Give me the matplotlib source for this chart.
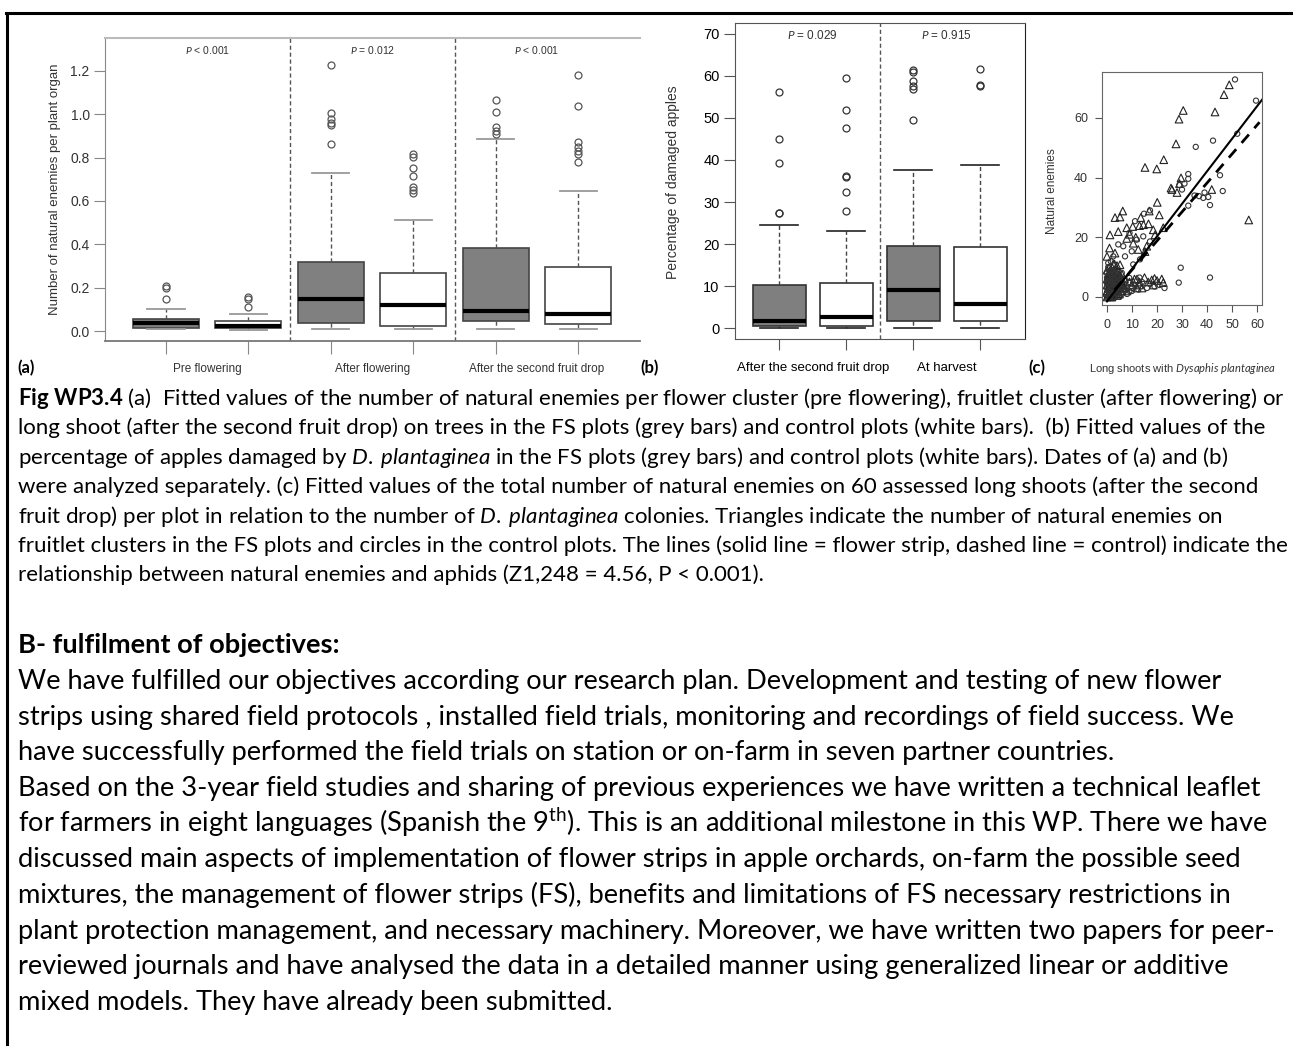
import matplotlib
matplotlib.use('Agg')
import matplotlib.pyplot as plt
import numpy as np
from matplotlib.lines import Line2D

plt.rcParams['font.family'] = ['Liberation Sans', 'DejaVu Sans']
plt.rcParams['mathtext.fontset'] = 'custom'
plt.rcParams['mathtext.rm'] = 'Lato'
plt.rcParams['mathtext.it'] = 'Lato:italic'
plt.rcParams['mathtext.bf'] = 'Lato:bold'

# ---- panel (a): natural enemies per plant organ ----
a_groups = ['Pre flowering', 'After flowering', 'After the second fruit drop']
a_pvals = [r'$\mathit{P}$ < 0.001', r'$\mathit{P}$ = 0.012', r'$\mathit{P}$ < 0.001']
a_med = [0.035, 0.025, 0.147, 0.120, 0.094, 0.077]
a_q1 = [0.014, 0.012, 0.036, 0.023, 0.047, 0.033]
a_q3 = [0.055, 0.046, 0.318, 0.268, 0.383, 0.294]
a_lo = [0.008, 0.003, 0.008, 0.008, 0.010, 0.010]
a_hi = [0.100, 0.078, 0.728, 0.512, 0.886, 0.648]
a_out = [[0.147, 0.200, 0.207],
         [0.110, 0.150, 0.155],
         [1.228, 1.005, 0.980, 0.960, 0.950, 0.862],
         [0.817, 0.804, 0.753, 0.717, 0.663, 0.651, 0.638],
         [1.066, 1.010, 0.943, 0.925, 0.910],
         [1.180, 1.038, 0.870, 0.850, 0.830, 0.817, 0.778]]

# ---- panel (b): damaged apples ----
b_groups = ['After the second fruit drop', 'At harvest']
b_pvals = [r'$\mathit{P}$ = 0.029', r'$\mathit{P}$ = 0.915']
b_med = [1.8, 2.6, 9.1, 5.7]
b_q1 = [0.6, 0.6, 1.8, 1.8]
b_q3 = [10.3, 10.7, 19.6, 19.4]
b_lo = [0, 0, 0, 0]
b_hi = [24.6, 23.0, 37.6, 38.7]
b_out = [[56.1, 45.1, 39.3, 27.5, 27.3],
         [59.4, 51.8, 47.7, 36.1, 35.9, 32.4, 27.9],
         [61.3, 60.9, 58.9, 57.7, 56.9, 49.5],
         [61.7, 57.9, 57.6]]

# ---- panel (c): natural enemies vs aphid colonies ----
tri_x = [48.9, 46.8, 43.2, 30.5, 28.8, 27.6, 22.7, 15.2, 19.9, 29.6, 25.6, 41.9, 56.7, 20.1,
         16.9, 20.9, 22.5, 15.2, 29.0, 28.0, 26.0,
         6.3, 3.2, 5.2, 4.5, 1.2, 7.9, 10.3, 13.0, 14.6, 16.6, 13.5, 7.9, 10.5, 1.0, 0.0, 12.5,
         19.2, 18.5, 3.2, 5.2, 15.9, 9.0, 11.5,
         15.0, 16.5, 17.9, 19.0, 20.0, 21.9, 22.5, 13.0, 12.0, 10.5, 14.0, 18.5,
         0, 0, 0, 0, 0, 1, 1, 1, 1, 1, 2, 2, 2, 2, 2, 3, 3, 3, 3, 4, 4, 4, 4, 5, 5, 5,
         6, 6, 6, 7, 7, 8, 0.5, 1.5, 2.5, 3.5, 4.5, 0.5, 1.5, 2.5, 3.5, 5.5, 6.5, 9, 10, 11, 12, 13,
         0.5, 1.5, 2.5, 3.5, 4.5, 5.5, 0.5, 1.5, 2.5, 3.5, 4.5, 0, 1, 2, 3, 4, 5, 6,
         0.5, 1.5, 2.5, 3.5, 1, 2, 3, 4]
tri_y = [71.1, 67.8, 62.0, 62.5, 59.6, 51.3, 46.0, 43.4, 42.9, 39.9, 36.5, 36.0, 25.8, 31.7,
         28.8, 27.5, 23.2, 15.2, 38.0, 35.0, 36.0,
         28.8, 26.6, 26.8, 21.9, 20.8, 23.2, 23.6, 23.9, 24.2, 24.5, 26.6, 19.6, 18.0, 16.4, 13.6, 15.9,
         20.8, 22.5, 14.7, 10.8, 17.0, 21.0, 20.0,
         6.5, 5.0, 5.7, 6.2, 5.5, 6.0, 4.8, 4.0, 6.0, 5.0, 3.0, 4.0,
         0, 2, 4, 6, 9, 1, 3, 5, 7, 10, 0, 2, 4, 6, 8, 1, 3, 5, 9, 2, 4, 6, 8, 1, 3, 7,
         2, 5, 4, 3, 6, 2, 1, 8, 3, 2, 5, 7, 4, 11, 6, 4, 3, 5, 4, 6, 3, 5,
         3, 5, 7, 9, 1, 6, 0.5, 2.5, 4.5, 6.5, 8.5, 1.5, 4.5, 1.5, 7.5, 0.5, 5.5, 7.5,
         5.5, 0, 0.5, 4, 8.5, 10, 11, 10.5]
cir_x = [51.2, 59.6, 42.4, 35.5, 52.1, 45.2, 32.5, 32.5, 28.9, 46.3, 41.2, 36.8, 38.5, 40.5,
         32.5, 29.5, 28.7, 41.2, 31.0, 30.0, 35.0, 39.0,
         14.8, 17.2, 11.2, 9.0, 6.5, 9.9, 7.2, 10.5, 13.2, 2.5, 0.5, 4.5, 14.5, 17.2, 11.9,
         3.2, 5.9, 8.9,
         9.0, 11.0, 12.5, 14.0, 16.0, 17.0, 19.0, 21.0, 23.0, 10.0, 8.0, 13.0,
         0, 0, 0, 0, 1, 1, 1, 1, 2, 2, 2, 2, 3, 3, 3, 3, 4, 4, 4, 5, 5, 5, 6, 6, 7, 7,
         8, 8, 9, 10, 0.5, 1.5, 2.5, 3.5, 4.5, 5.5, 0.5, 1.5, 2.5,
         0.5, 1.5, 2.5, 3.5, 4.5, 0.5, 1.5, 2.5, 3.5, 0, 1, 2, 3, 4, 5, 6, 7, 0.5, 1.5, 2.5]
cir_y = [72.9, 65.8, 52.4, 50.3, 54.7, 40.8, 41.2, 39.6, 37.5, 35.5, 30.8, 33.8, 33.2, 33.5,
         30.6, 9.8, 4.8, 6.5, 38.0, 36.0, 34.0, 35.0,
         27.9, 29.0, 25.4, 21.5, 17.0, 15.3, 13.6, 10.9, 12.6, 13.6, 11.4, 17.6, 20.3, 18.6, 19.2,
         9.2, 8.1, 6.4,
         5.0, 4.0, 2.5, 5.0, 3.0, 4.5, 3.5, 4.0, 3.0, 2.0, 3.0, 6.5,
         1, 3, 5, 8, 0, 2, 4, 6, 1, 3, 5, 7, 0, 2, 4, 6, 1, 3, 5, 0, 2, 4, 1, 3, 2, 4,
         1, 3, 2, 3, 7, 9, 6, 8, 7, 5, 10, 12, 9,
         2, 4, 3, 5, 3, 5, 7.5, 1.5, 2.5, 6.5, 8.5, 9, 8, 7, 6, 6, 6, 0, 1, 0]
fit_fs = (1.09, -1.5, 0, 62)     # slope, intercept, x from, x to (flower strip)
fit_ctrl = (0.97, -0.6, 3, 61)   # control

caption = [
    r"$\mathbf{Fig\ WP3.4}$ (a)  Fitted values of the number of natural enemies per flower cluster (pre flowering), fruitlet cluster (after flowering) or",
    "long shoot (after the second fruit drop) on trees in the FS plots (grey bars) and control plots (white bars).  (b) Fitted values of the",
    r"percentage of apples damaged by $\mathit{D.\;plantaginea}$ in the FS plots (grey bars) and control plots (white bars). Dates of (a) and (b)",
    "were analyzed separately. (c) Fitted values of the total number of natural enemies on 60 assessed long shoots (after the second",
    r"fruit drop) per plot in relation to the number of $\mathit{D.\;plantaginea}$ colonies. Triangles indicate the number of natural enemies on",
    "fruitlet clusters in the FS plots and circles in the control plots. The lines (solid line = flower strip, dashed line = control) indicate the",
    "relationship between natural enemies and aphids (Z1,248 = 4.56, P < 0.001).",
]
heading = "B- fulfilment of objectives:"
body = [
    "We have fulfilled our objectives according our research plan. Development and testing of new flower",
    "strips using shared field protocols , installed field trials, monitoring and recordings of field success. We",
    "have successfully performed the field trials on station or on-farm in seven partner countries.",
    "Based on the 3-year field studies and sharing of previous experiences we have written a technical leaflet",
    r"for farmers in eight languages (Spanish the 9$^{\mathrm{th}}$). This is an additional milestone in this WP. There we have",
    "discussed main aspects of implementation of flower strips in apple orchards, on-farm the possible seed",
    "mixtures, the management of flower strips (FS), benefits and limitations of FS necessary restrictions in",
    "plant protection management, and necessary machinery. Moreover, we have written two papers for peer-",
    "reviewed journals and have analysed the data in a detailed manner using generalized linear or additive",
    "mixed models. They have already been submitted.",
]

W, H = 1293, 1046
fig = plt.figure(figsize=(W / 100, H / 100), dpi=100)


def add_box(l, t, r, b):
    return fig.add_axes([l / W, 1 - b / H, (r - l) / W, (b - t) / H])


def stats(med, q1, q3, lo, hi, out):
    return [dict(med=m, q1=a, q3=b, whislo=c, whishi=d, fliers=f)
            for m, a, b, c, d, f in zip(med, q1, q3, lo, hi, out)]


# panel (a)
axa = add_box(105, 38, 640, 341)
bp = axa.bxp(stats(a_med, a_q1, a_q3, a_lo, a_hi, a_out), positions=[1, 2, 3, 4, 5, 6],
             widths=0.8, capwidths=0.45, patch_artist=True,
             boxprops=dict(edgecolor='#444444', linewidth=1.2),
             medianprops=dict(color='black', linewidth=3),
             whiskerprops=dict(color='#555555', linestyle=(0, (3, 2)), linewidth=1),
             capprops=dict(color='#999999', linewidth=1.3),
             flierprops=dict(marker='o', mfc='none', mec='#555555', ms=5, mew=0.9))
for i, patch in enumerate(bp['boxes']):
    patch.set_facecolor('#808080' if i % 2 == 0 else 'white')
axa.set_xlim(0.26, 6.75)
axa.set_ylim(-0.046, 1.352)
axa.set_yticks(np.arange(0, 1.21, 0.2))
axa.set_yticklabels([f'{v:.1f}' for v in np.arange(0, 1.21, 0.2)])
axa.set_xticks([1, 2, 3, 4, 5, 6])
axa.set_xticklabels([])
axa.tick_params(axis='x', length=9, color='#888888')
axa.tick_params(axis='y', length=8, color='#888888', labelsize=10, labelcolor='#333333', pad=3)
axa.spines['right'].set_visible(False)
axa.spines['top'].set_color('#bbbbbb')
axa.spines['top'].set_linewidth(1.5)
axa.spines['left'].set_color('#888888')
axa.spines['bottom'].set_color('#777777')
axa.spines['bottom'].set_linewidth(1.3)
for xv in [2.5, 4.5]:
    axa.axvline(xv, color='#555555', linestyle=(0, (3, 2)), linewidth=1)
for i, (g, p) in enumerate(zip(a_groups, a_pvals)):
    axa.text(1.5 + 2 * i, -0.092, g, transform=axa.get_xaxis_transform(),
             ha='center', va='center', fontsize=8.5, color='#333333')
    axa.text(1.5 + 2 * i, 0.96, p, transform=axa.get_xaxis_transform(),
             ha='center', va='center', fontsize=7.5, color='#333333')
fig.text(55 / W, 1 - 189 / H, 'Number of natural enemies per plant organ', rotation=90,
         ha='center', va='center', fontsize=9.5, color='#333333')

# panel (b)
axb = add_box(735, 23, 1025, 339)
bp = axb.bxp(stats(b_med, b_q1, b_q3, b_lo, b_hi, b_out), positions=[1, 2, 3, 4],
             widths=0.79, capwidths=0.56, patch_artist=True,
             boxprops=dict(edgecolor='#333333', linewidth=1.2),
             medianprops=dict(color='black', linewidth=3),
             whiskerprops=dict(color='#444444', linestyle=(0, (3, 2)), linewidth=1),
             capprops=dict(color='#222222', linewidth=1.2),
             flierprops=dict(marker='o', mfc='none', mec='#333333', ms=5, mew=0.9))
for i, patch in enumerate(bp['boxes']):
    patch.set_facecolor('#7f7f7f' if i % 2 == 0 else 'white')
axb.set_xlim(0.34, 4.67)
axb.set_ylim(-2.6, 72.6)
axb.set_yticks(range(0, 71, 10))
axb.set_xticks([1, 2, 3, 4])
axb.set_xticklabels([])
axb.tick_params(axis='x', length=8, color='#555555')
axb.tick_params(axis='y', length=8, color='#555555', labelsize=10.5, pad=3)
for s in axb.spines.values():
    s.set_color('#555555')
axb.spines['right'].set_color('#222222')
axb.axvline(2.5, color='#555555', linestyle=(0, (3, 2)), linewidth=1)
for i, (g, p) in enumerate(zip(b_groups, b_pvals)):
    axb.text(1.5 + 2 * i, -0.092, g, transform=axb.get_xaxis_transform(),
             ha='center', va='center', fontsize=9.5)
    axb.text(1.5 + 2 * i, 0.962, p, transform=axb.get_xaxis_transform(),
             ha='center', va='center', fontsize=8.5, color='#333333')
fig.text(673 / W, 1 - 182 / H, 'Percentage of damaged apples', rotation=90,
         ha='center', va='center', fontsize=10, color='#333333')

# panel (c)
axc = add_box(1102, 72, 1262, 305)
axc.scatter(tri_x, tri_y, marker='^', s=30, facecolors='none', edgecolors='#222222', linewidths=0.8)
axc.scatter(cir_x, cir_y, marker='o', s=14, facecolors='none', edgecolors='#333333', linewidths=0.8)
for slope, icpt, x0, x1, ls, lw in [(*fit_fs, '-', 1.5), (*fit_ctrl, (0, (4, 3)), 2)]:
    lx = np.array([x0, x1])
    axc.plot(lx, slope * lx + icpt, color='black', linewidth=lw, linestyle=ls)
axc.set_xlim(-2, 62)
axc.set_ylim(-2.7, 75.4)
axc.set_xticks(range(0, 61, 10))
axc.set_yticks([0, 20, 40, 60])
axc.tick_params(length=5, color='#555555', labelsize=9, labelcolor='#333333', pad=5)
for s in axc.spines.values():
    s.set_color('#666666')
fig.text(1183 / W, 1 - 368 / H, r'Long shoots with $\mathit{Dysaphis\;plantaginea}$',
         ha='center', va='center', fontsize=8, color='#333333')
fig.text(1052 / W, 1 - 191 / H, 'Natural enemies', rotation=90,
         ha='center', va='center', fontsize=8.5, color='#333333')

# panel letters
for lab, xp in [('(a)', 17), ('(b)', 640), ('(c)', 1028)]:
    fig.text(xp / W, 1 - 368 / H, lab, family='Lato', fontweight='bold', fontsize=12,
             ha='left', va='center')

# page frame
fig.add_artist(Line2D([6 / W, 1], [1 - 13 / H, 1 - 13 / H], color='black', linewidth=2.2))
fig.add_artist(Line2D([7 / W, 7 / W], [1 - 13 / H, 0], color='black', linewidth=2.2))

# caption and body text, sized to the reference line widths
renderer = fig.canvas.get_renderer()


def fit_size(s, width, **kw):
    t = fig.text(0, 0, s, fontsize=10, **kw)
    w = t.get_window_extent(renderer).width
    t.remove()
    return 10 * width / w


cap_size = fit_size(caption[0], 1265, family='Lato')
cap_drop = 0.36 * cap_size * 100 / 72   # line centre to baseline, px
for i, line in enumerate(caption):
    fig.text(18 / W, 1 - (397 + 29.4 * i + cap_drop) / H, line, family='Lato',
             fontsize=cap_size, ha='left', va='baseline')

body_size = fit_size(body[0], 1207, family='Lato')
body_drop = 0.36 * body_size * 100 / 72
fig.text(18 / W, 1 - (643 + body_drop) / H, heading, family='Lato', fontweight='bold',
         fontsize=body_size, ha='left', va='baseline')
for i, line in enumerate(body):
    fig.text(18 / W, 1 - (679 + 35.7 * i + body_drop) / H, line, family='Lato',
             fontsize=body_size, ha='left', va='baseline')

fig.savefig('out.png', dpi=100)
